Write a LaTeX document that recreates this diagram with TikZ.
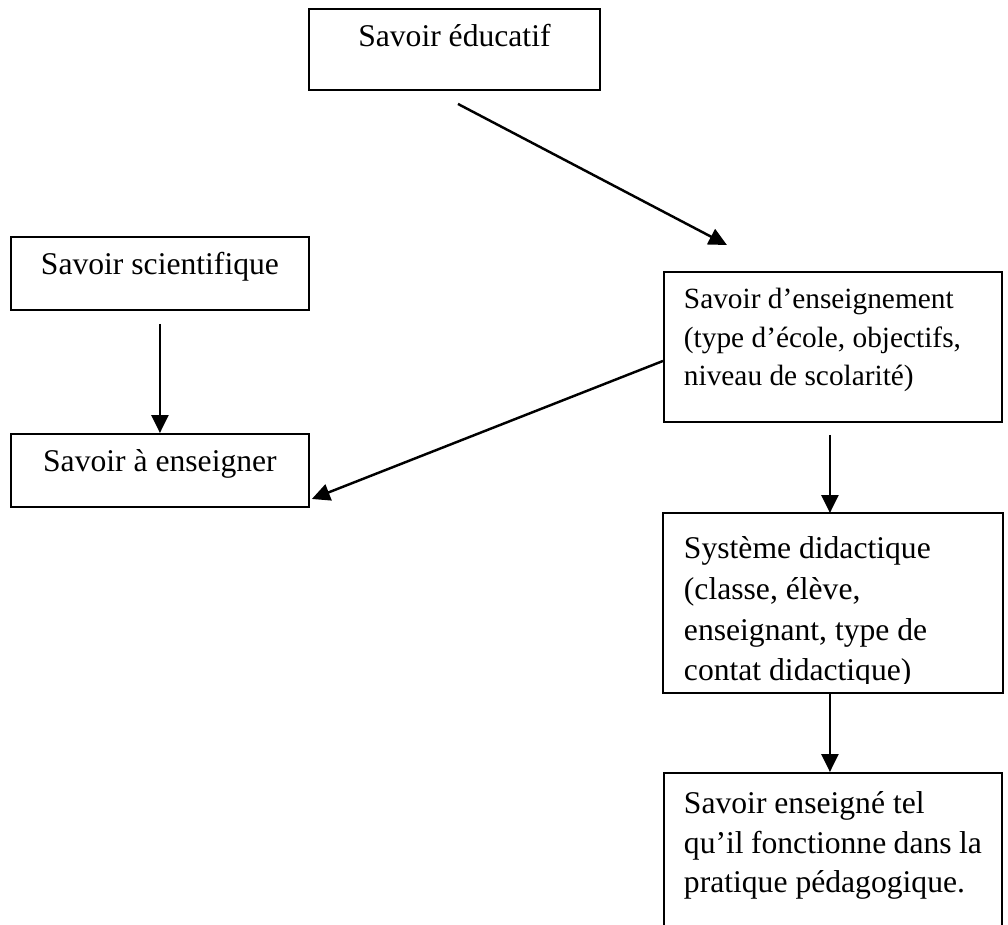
\documentclass[tikz,border=0pt]{standalone}
\usepackage{fontspec}
\setmainfont{Liberation Serif}
\usetikzlibrary{arrows.meta,calc}
\newcommand{\savoirbox}[4]{\parbox[c][#2][t]{#1}{#3\strut#4\strut}}
\tikzset{
  savoir/.style={draw=black,line width=1.1pt,anchor=north west,inner xsep=0.4cm,
                 inner ysep=0.2cm,font=\fontsize{18}{22.5}\selectfont},
  flow/.style={-{Triangle[length=0.36cm,width=0.34cm]},draw=black,line width=1.4pt},
}

\begin{document}
\begin{tikzpicture}[x=0.02cm,y=-0.02cm]
  \clip (0,0) rectangle (1008,924);
  % left column and top box
  \node[savoir] (edu) at (308,8)
    {\savoirbox{5.02cm}{1.22cm}{\centering}{Savoir éducatif}};
  \node[savoir] (sci) at (10,236)
    {\savoirbox{5.16cm}{1.06cm}{\centering}{Savoir scientifique}};
  \node[savoir] (aens) at (10,433)
    {\savoirbox{5.16cm}{1.06cm}{\centering}{Savoir à enseigner}};
  % right column
  \node[savoir,font=\fontsize{16.7}{21.8}\selectfont] (ens) at (663,271)
    {\savoirbox{5.96cm}{2.6cm}{\raggedright}{Savoir d’enseignement\\
     (type d’école, objectifs,\\ niveau de scolarité)}};
  \begin{scope}
    \clip (663,513) rectangle (1001,683);
    \node[savoir,draw=none,font=\fontsize{18}{23.2}\selectfont] (sys) at (663,513)
      {\savoirbox{5.96cm}{3.16cm}{\raggedright\vspace*{0.12cm}}{Système didactique\\
       (classe, élève,\\ enseignant, type de\\ contat didactique)}};
  \end{scope}
  \draw[line width=1.1pt] (sys.north west) rectangle (sys.south east);
  \node[savoir] (tel) at (663,772)
    {\savoirbox{5.96cm}{2.8cm}{\raggedright\vspace*{0.06cm}}{Savoir enseigné tel\\
     qu’il fonctionne dans la\\ pratique pédagogique.}};
  % arrows
  \draw[flow] ($(edu.south)+(3.5,13)$) -- ($(ens.north)+(-106,-26)$);
  \draw[flow] ($(sci.south)+(0,13)$) -- (aens.north);
  \draw[flow] ($(ens.west)+(0,14)$) -- ($(aens.east)+(2,28.5)$);
  \draw[flow] ($(ens.south)+(-3,12)$) -- ($(sys.north)+(-3,0)$);
  \draw[flow] ($(sys.south)+(-3,0)$) -- ($(tel.north)+(-3,0)$);
\end{tikzpicture}
\end{document}
